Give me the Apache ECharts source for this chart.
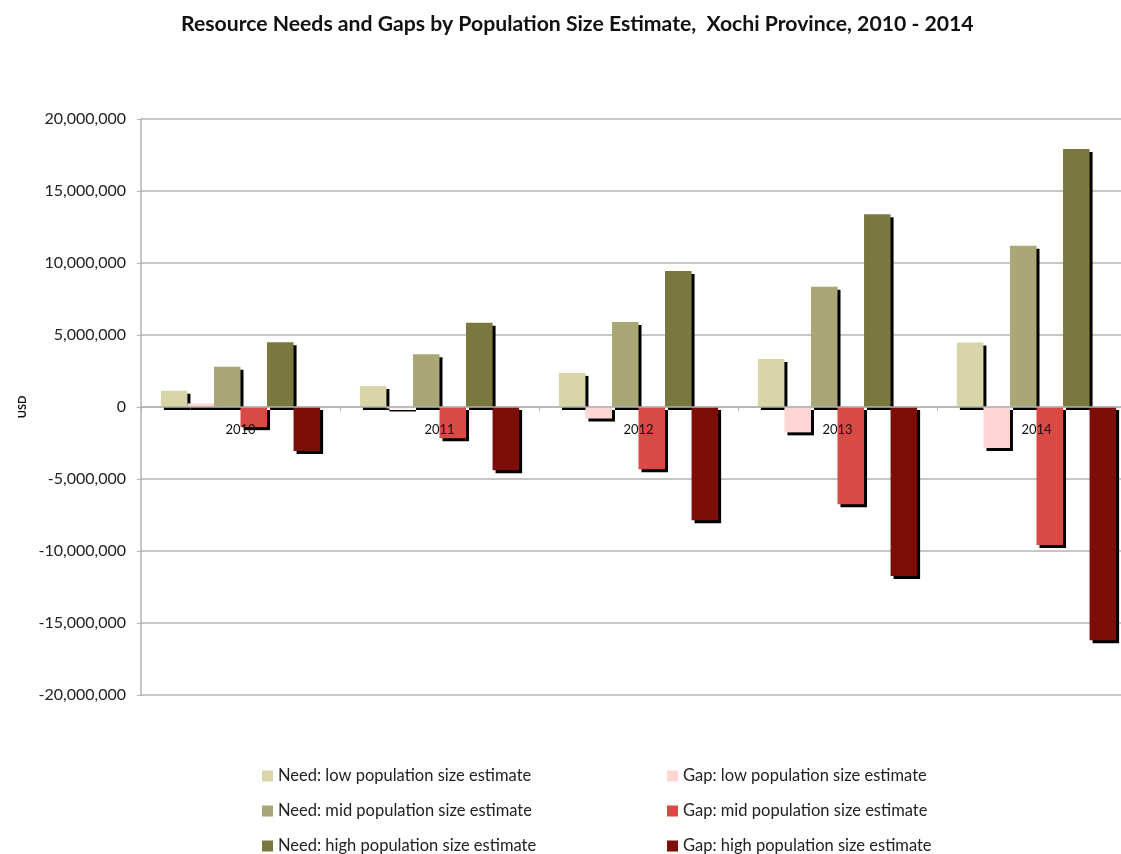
<!DOCTYPE html>
<html>
<head>
<meta charset="utf-8">
<script src="https://cdn.jsdelivr.net/npm/echarts@6/dist/echarts.min.js"></script>
<style>
  html, body { margin: 0; padding: 0; background: #fff; overflow: hidden; }
  /* the plot runs a little past the right edge of the picture */
  #chart { width: 1136px; height: 854px; }
</style>
</head>
<body>
<div id="chart"></div>
<script>
const years = ['2010', '2011', '2012', '2013', '2014']
const needLow = [1130000, 1460000, 2370000, 3330000, 4480000]
const gapLow = [250000, -100000, -800000, -1760000, -2850000]
const needMid = [2800000, 3660000, 5900000, 8350000, 11200000]
const gapMid = [-1400000, -2170000, -4320000, -6760000, -9580000]
const needHigh = [4500000, 5850000, 9440000, 13380000, 17920000]
const gapHigh = [-3050000, -4400000, -7870000, -11740000, -16200000]

const seriesNames = [
  'Need: low population size estimate',
  'Gap: low population size estimate',
  'Need: mid population size estimate',
  'Gap: mid population size estimate',
  'Need: high population size estimate',
  'Gap: high population size estimate'
]
const seriesData = [needLow, gapLow, needMid, gapMid, needHigh, gapHigh]
const colors = ['#d8d6a8', '#ffd6d6', '#a9a775', '#d94a44', '#7a783f', '#7d0d07']

const font = 'Lato, "Open Sans", sans-serif'

// one legend per entry: needs in the left column, gaps in the right
const legendPos = [
  [262, 776], [667, 776],
  [262, 811], [667, 811],
  [262, 846], [667, 846]
]
const legends = seriesNames.map((name, i) => ({
  data: [name],
  left: legendPos[i][0],
  top: legendPos[i][1] - 9,
  padding: 0,
  itemWidth: 11,
  itemHeight: 11,
  icon: 'rect',
  textStyle: { fontFamily: font, fontSize: 16.5, lineHeight: 18, color: '#222' }
}))

const chart = echarts.init(document.getElementById('chart'))
const option = {
  animation: false,
  title: {
    text: 'Resource Needs and Gaps by Population Size Estimate,  Xochi Province, 2010 - 2014',
    left: 176,
    top: 9,
    textStyle: { fontFamily: font, fontSize: 21.2, fontWeight: 'bold', color: '#111' }
  },
  legend: legends,
  grid: { left: 141, right: 0, top: 119, bottom: 159, containLabel: false },
  xAxis: {
    type: 'category',
    data: years,
    z: 5,
    // sit the category axis on the zero line (half the plot height up)
    offset: -288,
    axisLine: { onZero: false, lineStyle: { color: '#b3b3b3', width: 1.5 } },
    axisTick: { show: true, length: 4, lineStyle: { color: '#b3b3b3' } },
    axisLabel: { fontFamily: font, fontSize: 13, color: '#111', margin: 16 }
  },
  yAxis: {
    type: 'value',
    min: -20000000,
    max: 20000000,
    interval: 5000000,
    name: 'USD',
    nameLocation: 'middle',
    nameGap: 113,
    nameTextStyle: { fontFamily: font, fontSize: 11, fontWeight: 'bold', color: '#111' },
    axisLine: { show: true, lineStyle: { color: '#b3b3b3', width: 1.5 } },
    axisTick: { show: true, length: 4, lineStyle: { color: '#b3b3b3' } },
    splitLine: { lineStyle: { color: '#b3b3b3', width: 1.5 } },
    axisLabel: {
      fontFamily: font,
      fontSize: 16,
      color: '#222',
      margin: 15,
      formatter: v => v.toLocaleString('en-US')
    }
  },
  series: seriesData.map((d, i) => ({
    type: 'bar',
    name: seriesNames[i],
    data: d,
    barGap: '0%',
    barCategoryGap: '20%',
    itemStyle: {
      color: colors[i],
      shadowColor: '#000',
      shadowOffsetX: 3,
      shadowOffsetY: 3,
      shadowBlur: 0
    }
  }))
}
chart.setOption(option)
</script>
</body>
</html>
